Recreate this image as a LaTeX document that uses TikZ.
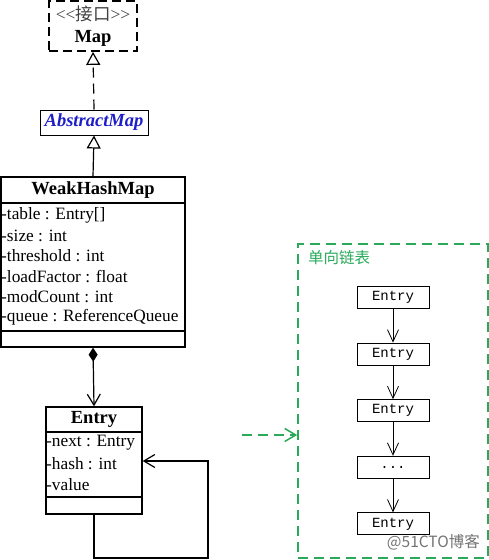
\documentclass[tikz,border=0pt]{standalone}
\usepackage{fontspec}
\setmainfont{Liberation Serif}
\setmonofont{Liberation Mono}
\newfontfamily\cjk{Noto Sans CJK SC}
\usetikzlibrary{arrows.meta}
\definecolor{listgreen}{RGB}{40,170,90}
\definecolor{absblue}{RGB}{30,30,200}
\tikzset{
  umlbox/.style={draw, line width=1.4pt, inner sep=0pt},
  attr/.style={anchor=west, inner sep=0pt, font=\fontsize{17.3}{20}\selectfont},
  head/.style={inner sep=0pt, font=\fontsize{18.5}{20}\selectfont\bfseries},
  hollow/.style={-{Triangle[open, length=13, width=14]}, line width=1.2pt},
  open/.style={-{Straight Barb[length=11, width=13]}, line width=1.2pt},
  entrybox/.style={draw, line width=1pt, minimum width=72, minimum height=22, inner sep=0pt, font=\fontsize{14}{14}\ttfamily},
}
\begin{document}
\begin{tikzpicture}[x=1pt,y=-1pt]
  \useasboundingbox (0,0) rectangle (489,560);
  % interface Map
  \node[umlbox, dashed, dash pattern=on 9pt off 5pt, line width=1.8pt, minimum width=88, minimum height=50] (map) at (93,26) {};
  \node[inner sep=0pt, text=black!75, font=\fontsize{17.5}{20}\selectfont] (maptag) at (93,14) {<{}<{\cjk 接口}>{}>};
  \node[head] (mapname) at (93,38) {Map};
  % AbstractMap
  \node[umlbox, line width=1pt, minimum width=108, minimum height=25, text=absblue, font=\fontsize{18.5}{20}\selectfont\bfseries\itshape] (amap) at (94,122.5) {AbstractMap};
  % WeakHashMap
  \node[umlbox, minimum width=184, minimum height=26] (whm) at (93,190) {};
  \node[head] (whmname) at (whm) {WeakHashMap};
  \node[umlbox, minimum width=184, minimum height=128] (whmattr) at (93,267) {};
  \node[umlbox, minimum width=184, minimum height=16] (whmops) at (93,339) {};
  \foreach \t [count=\i] in {{-table : Entry[]}, {-size : int}, {-threshold : int}, {-loadFactor : float}, {-modCount : int}, {-queue : ReferenceQueue}}
    \node[attr] (whm\i) at (1,194.6+20.4*\i) {\t};
  % Entry
  \node[umlbox, minimum width=96, minimum height=25] (ent) at (94,419.5) {};
  \node[head] (entname) at (ent) {Entry};
  \node[umlbox, minimum width=96, minimum height=65] (entattr) at (94,464.5) {};
  \node[umlbox, minimum width=96, minimum height=17] (entops) at (94,505.5) {};
  \foreach \t [count=\i] in {{-next : Entry}, {-hash : int}, {-value}}
    \node[attr] (ent\i) at (46,422+21*\i) {\t};
  % connectors
  \draw[hollow, dashed, dash pattern=on 10pt off 6pt] (amap.north) -- (map.south);
  \draw[hollow] (whm.north) -- (amap.south);
  \draw[open, {Diamond[length=14, width=9]}-{Straight Barb[length=11, width=13]}] (whmops.south) -- (ent.north);
  \coordinate (loopbr) at (208,558);
  \coordinate (looptr) at (208,461);
  \draw[open] (entops.south) |- (loopbr) -- (looptr) -- (looptr -| entattr.east);
  % single linked list
  \node[draw=listgreen, dashed, dash pattern=on 10pt off 6pt, line width=1.6pt, minimum width=190, minimum height=314, inner sep=0pt] (list) at (393,401) {};
  \node[anchor=west, inner sep=0pt, text=listgreen, font=\fontsize{15.5}{16}\cjk] (listname) at (308,258) {单向链表};
  \coordinate (gsrc) at (242,435);
  \draw[open, draw=listgreen, dashed, dash pattern=on 10pt off 6pt, line width=1.5pt] (gsrc) -- (gsrc -| list.west);
  \foreach \t [count=\i] in {Entry, Entry, Entry, {.\kern0pt.\kern0pt.}, Entry}
    \node[entrybox] (e\i) at (393,297.5+56.6*\i-56.6) {\t};
  \foreach \i/\j in {1/2, 2/3, 3/4, 4/5}
    \draw[-{Straight Barb[length=12, width=11]}, line width=0.8pt] (e\i) -- (e\j);
  \node[anchor=east, inner sep=0pt, text=black!55, font=\fontsize{15.5}{16}\cjk] (mark) at (480,542) {@51CTO博客};
\end{tikzpicture}
\end{document}
